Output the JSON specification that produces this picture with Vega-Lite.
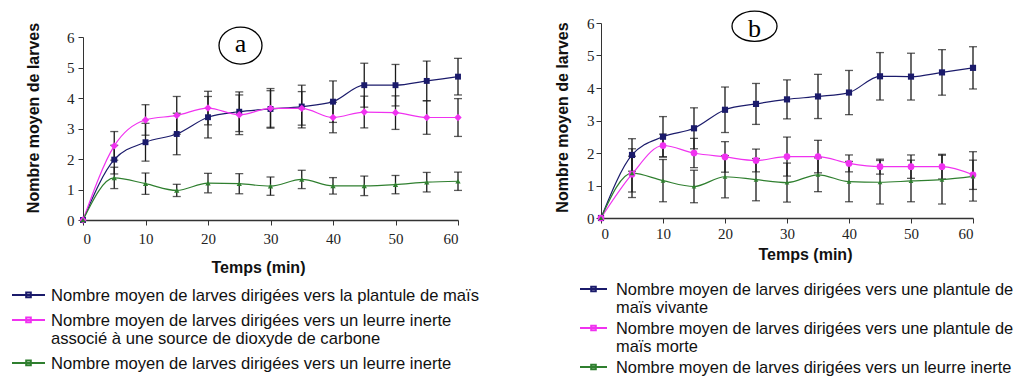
{
  "$schema": "https://vega.github.io/schema/vega-lite/v6.json",
  "background": "white",
  "padding": {"left": 11, "top": 8, "right": 5, "bottom": 5},
  "spacing": 143,
  "bounds": "flush",
  "datasets": {
    "a": [
      {"t": 0, "series": "Nombre moyen de larves dirigées vers la plantule de maïs", "mean": 0, "err": 0},
      {"t": 5, "series": "Nombre moyen de larves dirigées vers la plantule de maïs", "mean": 1.98, "err": 0.47},
      {"t": 10, "series": "Nombre moyen de larves dirigées vers la plantule de maïs", "mean": 2.55, "err": 0.62},
      {"t": 15, "series": "Nombre moyen de larves dirigées vers la plantule de maïs", "mean": 2.82, "err": 0.68},
      {"t": 20, "series": "Nombre moyen de larves dirigées vers la plantule de maïs", "mean": 3.37, "err": 0.68},
      {"t": 25, "series": "Nombre moyen de larves dirigées vers la plantule de maïs", "mean": 3.55, "err": 0.65},
      {"t": 30, "series": "Nombre moyen de larves dirigées vers la plantule de maïs", "mean": 3.64, "err": 0.6},
      {"t": 35, "series": "Nombre moyen de larves dirigées vers la plantule de maïs", "mean": 3.72, "err": 0.7},
      {"t": 40, "series": "Nombre moyen de larves dirigées vers la plantule de maïs", "mean": 3.88, "err": 0.68},
      {"t": 45, "series": "Nombre moyen de larves dirigées vers la plantule de maïs", "mean": 4.42, "err": 0.72},
      {"t": 50, "series": "Nombre moyen de larves dirigées vers la plantule de maïs", "mean": 4.42, "err": 0.68},
      {"t": 55, "series": "Nombre moyen de larves dirigées vers la plantule de maïs", "mean": 4.56, "err": 0.65},
      {"t": 60, "series": "Nombre moyen de larves dirigées vers la plantule de maïs", "mean": 4.7, "err": 0.6},
      {"t": 0, "series": "Nombre moyen de larves dirigées vers un leurre inerte associé à une source de dioxyde de carbone", "mean": 0, "err": 0},
      {"t": 5, "series": "Nombre moyen de larves dirigées vers un leurre inerte associé à une source de dioxyde de carbone", "mean": 2.43, "err": 0.47},
      {"t": 10, "series": "Nombre moyen de larves dirigées vers un leurre inerte associé à une source de dioxyde de carbone", "mean": 3.28, "err": 0.5},
      {"t": 15, "series": "Nombre moyen de larves dirigées vers un leurre inerte associé à une source de dioxyde de carbone", "mean": 3.43, "err": 0.62},
      {"t": 20, "series": "Nombre moyen de larves dirigées vers un leurre inerte associé à une source de dioxyde de carbone", "mean": 3.67, "err": 0.55},
      {"t": 25, "series": "Nombre moyen de larves dirigées vers un leurre inerte associé à une source de dioxyde de carbone", "mean": 3.45, "err": 0.65},
      {"t": 30, "series": "Nombre moyen de larves dirigées vers un leurre inerte associé à une source de dioxyde de carbone", "mean": 3.66, "err": 0.65},
      {"t": 35, "series": "Nombre moyen de larves dirigées vers un leurre inerte associé à une source de dioxyde de carbone", "mean": 3.66, "err": 0.55},
      {"t": 40, "series": "Nombre moyen de larves dirigées vers un leurre inerte associé à une source de dioxyde de carbone", "mean": 3.36, "err": 0.5},
      {"t": 45, "series": "Nombre moyen de larves dirigées vers un leurre inerte associé à une source de dioxyde de carbone", "mean": 3.54, "err": 0.52},
      {"t": 50, "series": "Nombre moyen de larves dirigées vers un leurre inerte associé à une source de dioxyde de carbone", "mean": 3.52, "err": 0.55},
      {"t": 55, "series": "Nombre moyen de larves dirigées vers un leurre inerte associé à une source de dioxyde de carbone", "mean": 3.36, "err": 0.55},
      {"t": 60, "series": "Nombre moyen de larves dirigées vers un leurre inerte associé à une source de dioxyde de carbone", "mean": 3.36, "err": 0.62},
      {"t": 0, "series": "Nombre moyen de larves dirigées vers un leurre inerte", "mean": 0, "err": 0},
      {"t": 5, "series": "Nombre moyen de larves dirigées vers un leurre inerte", "mean": 1.38, "err": 0.35},
      {"t": 10, "series": "Nombre moyen de larves dirigées vers un leurre inerte", "mean": 1.19, "err": 0.35},
      {"t": 15, "series": "Nombre moyen de larves dirigées vers un leurre inerte", "mean": 0.97, "err": 0.2},
      {"t": 20, "series": "Nombre moyen de larves dirigées vers un leurre inerte", "mean": 1.21, "err": 0.32},
      {"t": 25, "series": "Nombre moyen de larves dirigées vers un leurre inerte", "mean": 1.19, "err": 0.33},
      {"t": 30, "series": "Nombre moyen de larves dirigées vers un leurre inerte", "mean": 1.11, "err": 0.3},
      {"t": 35, "series": "Nombre moyen de larves dirigées vers un leurre inerte", "mean": 1.33, "err": 0.3},
      {"t": 40, "series": "Nombre moyen de larves dirigées vers un leurre inerte", "mean": 1.12, "err": 0.27},
      {"t": 45, "series": "Nombre moyen de larves dirigées vers un leurre inerte", "mean": 1.12, "err": 0.32},
      {"t": 50, "series": "Nombre moyen de larves dirigées vers un leurre inerte", "mean": 1.16, "err": 0.3},
      {"t": 55, "series": "Nombre moyen de larves dirigées vers un leurre inerte", "mean": 1.24, "err": 0.32},
      {"t": 60, "series": "Nombre moyen de larves dirigées vers un leurre inerte", "mean": 1.27, "err": 0.3}
    ],
    "b": [
      {"t": 0, "series": "Nombre moyen de larves dirigées vers une plantule de maïs vivante", "mean": 0, "err": 0},
      {"t": 5, "series": "Nombre moyen de larves dirigées vers une plantule de maïs vivante", "mean": 1.94, "err": 0.5},
      {"t": 10, "series": "Nombre moyen de larves dirigées vers une plantule de maïs vivante", "mean": 2.5, "err": 0.62},
      {"t": 15, "series": "Nombre moyen de larves dirigées vers une plantule de maïs vivante", "mean": 2.76, "err": 0.63},
      {"t": 20, "series": "Nombre moyen de larves dirigées vers une plantule de maïs vivante", "mean": 3.33, "err": 0.7},
      {"t": 25, "series": "Nombre moyen de larves dirigées vers une plantule de maïs vivante", "mean": 3.51, "err": 0.63},
      {"t": 30, "series": "Nombre moyen de larves dirigées vers une plantule de maïs vivante", "mean": 3.65, "err": 0.6},
      {"t": 35, "series": "Nombre moyen de larves dirigées vers une plantule de maïs vivante", "mean": 3.74, "err": 0.68},
      {"t": 40, "series": "Nombre moyen de larves dirigées vers une plantule de maïs vivante", "mean": 3.86, "err": 0.68},
      {"t": 45, "series": "Nombre moyen de larves dirigées vers une plantule de maïs vivante", "mean": 4.36, "err": 0.73},
      {"t": 50, "series": "Nombre moyen de larves dirigées vers une plantule de maïs vivante", "mean": 4.35, "err": 0.72},
      {"t": 55, "series": "Nombre moyen de larves dirigées vers une plantule de maïs vivante", "mean": 4.48, "err": 0.7},
      {"t": 60, "series": "Nombre moyen de larves dirigées vers une plantule de maïs vivante", "mean": 4.62, "err": 0.65},
      {"t": 0, "series": "Nombre moyen de larves dirigées vers une plantule de maïs morte", "mean": 0, "err": 0},
      {"t": 5, "series": "Nombre moyen de larves dirigées vers une plantule de maïs morte", "mean": 1.35, "err": 0.55},
      {"t": 10, "series": "Nombre moyen de larves dirigées vers une plantule de maïs morte", "mean": 2.23, "err": 0.35},
      {"t": 15, "series": "Nombre moyen de larves dirigées vers une plantule de maïs morte", "mean": 2.0, "err": 0.45},
      {"t": 20, "series": "Nombre moyen de larves dirigées vers une plantule de maïs morte", "mean": 1.88, "err": 0.47},
      {"t": 25, "series": "Nombre moyen de larves dirigées vers une plantule de maïs morte", "mean": 1.77, "err": 0.35},
      {"t": 30, "series": "Nombre moyen de larves dirigées vers une plantule de maïs morte", "mean": 1.89, "err": 0.6},
      {"t": 35, "series": "Nombre moyen de larves dirigées vers une plantule de maïs morte", "mean": 1.89, "err": 0.5},
      {"t": 40, "series": "Nombre moyen de larves dirigées vers une plantule de maïs morte", "mean": 1.68, "err": 0.26},
      {"t": 45, "series": "Nombre moyen de larves dirigées vers une plantule de maïs morte", "mean": 1.58, "err": 0.23},
      {"t": 50, "series": "Nombre moyen de larves dirigées vers une plantule de maïs morte", "mean": 1.58, "err": 0.36},
      {"t": 55, "series": "Nombre moyen de larves dirigées vers une plantule de maïs morte", "mean": 1.58, "err": 0.38},
      {"t": 60, "series": "Nombre moyen de larves dirigées vers une plantule de maïs morte", "mean": 1.33, "err": 0.45},
      {"t": 0, "series": "Nombre moyen de larves dirigées vers un leurre inerte", "mean": 0, "err": 0},
      {"t": 5, "series": "Nombre moyen de larves dirigées vers un leurre inerte", "mean": 1.38, "err": 0.75},
      {"t": 10, "series": "Nombre moyen de larves dirigées vers un leurre inerte", "mean": 1.15, "err": 0.65},
      {"t": 15, "series": "Nombre moyen de larves dirigées vers un leurre inerte", "mean": 0.97, "err": 0.5},
      {"t": 20, "series": "Nombre moyen de larves dirigées vers un leurre inerte", "mean": 1.27, "err": 0.65},
      {"t": 25, "series": "Nombre moyen de larves dirigées vers un leurre inerte", "mean": 1.18, "err": 0.65},
      {"t": 30, "series": "Nombre moyen de larves dirigées vers un leurre inerte", "mean": 1.09, "err": 0.6},
      {"t": 35, "series": "Nombre moyen de larves dirigées vers un leurre inerte", "mean": 1.33, "err": 0.52},
      {"t": 40, "series": "Nombre moyen de larves dirigées vers un leurre inerte", "mean": 1.12, "err": 0.62},
      {"t": 45, "series": "Nombre moyen de larves dirigées vers un leurre inerte", "mean": 1.1, "err": 0.67},
      {"t": 50, "series": "Nombre moyen de larves dirigées vers un leurre inerte", "mean": 1.14, "err": 0.64},
      {"t": 55, "series": "Nombre moyen de larves dirigées vers un leurre inerte", "mean": 1.18, "err": 0.75},
      {"t": 60, "series": "Nombre moyen de larves dirigées vers un leurre inerte", "mean": 1.28, "err": 0.76}
    ]
  },
  "hconcat": [
    {
      "width": 375,
      "height": 197,
      "data": {"name": "a"},
      "encoding": {
        "x": {"field": "t", "type": "quantitative", "scale": {"domain": [0, 60], "nice": false},
          "axis": {"values": [0, 10, 20, 30, 40, 50, 60], "title": "Temps (min)", "titlePadding": 13, "labelPadding": 6, "tickSize": 5, "domainWidth": 1.5, "titleX": 175}},
        "y": {"field": "mean", "type": "quantitative", "scale": {"domain": [0, 6], "range": [197, 14], "nice": false},
          "axis": {"values": [0, 1, 2, 3, 4, 5, 6], "title": "Nombre moyen de larves", "titlePadding": 25, "labelPadding": 4, "tickSize": 5, "titleY": 94.5}}
      },
      "layer": [
        {
          "mark": {"type": "errorbar", "ticks": {"size": 8}, "color": "#1a1a1a", "thickness": 1.3},
          "transform": [{"filter": "datum.err > 0"}],
          "encoding": {"yError": {"field": "err"}}
        },
        {
          "mark": {"type": "line", "interpolate": "monotone", "strokeWidth": 1.2},
          "encoding": {
            "color": {"field": "series", "type": "nominal",
              "scale": {"domain": ["Nombre moyen de larves dirigées vers la plantule de maïs", "Nombre moyen de larves dirigées vers un leurre inerte associé à une source de dioxyde de carbone", "Nombre moyen de larves dirigées vers un leurre inerte"], "range": ["#1b1b6b", "#f032f0", "#2f7f2f"]},
              "legend": {"title": null, "orient": "none", "legendX": -72, "legendY": 260, "direction": "vertical", "padding": 0,
                "symbolType": "M-1,-0.34L1,-0.34M-0.14,-0.48L0.14,-0.48L0.14,-0.2L-0.14,-0.2Z", "symbolSize": 1089, "symbolStrokeWidth": 2,
                "labelFont": "Liberation Sans", "labelFontSize": 16.6, "labelColor": "#111", "labelBaseline": "alphabetic", "labelLimit": 1000, "labelOffset": 5, "rowPadding": 3,
                "labelExpr": "datum.label == 'Nombre moyen de larves dirigées vers un leurre inerte associé à une source de dioxyde de carbone' ? ['Nombre moyen de larves dirigées vers un leurre inerte', 'associé à une source de dioxyde de carbone'] : datum.label"}}
          }
        },
        {
          "transform": [{"filter": "datum.series == 'Nombre moyen de larves dirigées vers la plantule de maïs'"}],
          "mark": {"type": "point", "filled": true, "opacity": 1, "size": 35, "shape": "square", "color": "#1b1b6b"}
        },
        {
          "transform": [{"filter": "datum.series == 'Nombre moyen de larves dirigées vers un leurre inerte associé à une source de dioxyde de carbone'"}],
          "mark": {"type": "point", "filled": true, "opacity": 1, "size": 55, "shape": "diamond", "color": "#f032f0"}
        },
        {
          "transform": [{"filter": "datum.series == 'Nombre moyen de larves dirigées vers un leurre inerte'"}],
          "mark": {"type": "point", "filled": true, "opacity": 1, "size": 28, "shape": "triangle-up", "color": "#2f7f2f"}
        },
        {
          "data": {"values": [{"t": 25.2, "mean": 5.72, "label": "a"}]},
          "mark": {"type": "point", "shape": "M-1,0A1,0.86,0,1,1,1,0A1,0.86,0,1,1,-1,0Z", "size": 1849, "filled": false, "color": "#000", "strokeWidth": 1.3, "opacity": 1}
        },
        {
          "data": {"values": [{"t": 25.2, "mean": 5.72, "label": "a"}]},
          "mark": {"type": "text", "font": "Liberation Serif", "fontSize": 26, "baseline": "middle", "align": "center", "dy": -2, "color": "#000"},
          "encoding": {"text": {"field": "label"}}
        }
      ]
    },
    {
      "width": 372,
      "height": 195,
      "data": {"name": "b"},
      "encoding": {
        "x": {"field": "t", "type": "quantitative", "scale": {"domain": [0, 60], "nice": false},
          "axis": {"values": [0, 10, 20, 30, 40, 50, 60], "title": "Temps (min)", "titlePadding": 5, "labelPadding": 3, "tickSize": 5, "domainWidth": 1.5, "titleX": 204}},
        "y": {"field": "mean", "type": "quantitative", "scale": {"domain": [0, 6], "nice": false},
          "axis": {"values": [0, 1, 2, 3, 4, 5, 6], "title": "Nombre moyen de larves", "titlePadding": 16, "labelPadding": 2, "tickSize": 5, "titleY": 94}}
      },
      "layer": [
        {
          "mark": {"type": "errorbar", "ticks": {"size": 8}, "color": "#1a1a1a", "thickness": 1.3},
          "transform": [{"filter": "datum.err > 0"}],
          "encoding": {"yError": {"field": "err"}}
        },
        {
          "mark": {"type": "line", "interpolate": "monotone", "strokeWidth": 1.2},
          "encoding": {
            "color": {"field": "series", "type": "nominal",
              "scale": {"domain": ["Nombre moyen de larves dirigées vers une plantule de maïs vivante", "Nombre moyen de larves dirigées vers une plantule de maïs morte", "Nombre moyen de larves dirigées vers un leurre inerte"], "range": ["#1b1b6b", "#f032f0", "#2f7f2f"]},
              "legend": {"title": null, "orient": "none", "legendX": -22, "legendY": 257, "direction": "vertical", "padding": 0,
                "symbolType": "M-1,-0.41L1,-0.41M-0.17,-0.58L0.17,-0.58L0.17,-0.24L-0.17,-0.24Z", "symbolSize": 729, "symbolStrokeWidth": 2,
                "labelFont": "Liberation Sans", "labelFontSize": 16.4, "labelColor": "#111", "labelBaseline": "alphabetic", "labelLimit": 1000, "labelOffset": 8, "rowPadding": 2,
                "labelExpr": "datum.label == 'Nombre moyen de larves dirigées vers une plantule de maïs vivante' ? ['Nombre moyen de larves dirigées vers une plantule de', 'maïs vivante'] : datum.label == 'Nombre moyen de larves dirigées vers une plantule de maïs morte' ? ['Nombre moyen de larves dirigées vers une plantule de', 'maïs morte'] : datum.label"}}
          }
        },
        {
          "transform": [{"filter": "datum.series == 'Nombre moyen de larves dirigées vers une plantule de maïs vivante'"}],
          "mark": {"type": "point", "filled": true, "opacity": 1, "size": 38, "shape": "square", "color": "#1b1b6b"}
        },
        {
          "transform": [{"filter": "datum.series == 'Nombre moyen de larves dirigées vers une plantule de maïs morte'"}],
          "mark": {"type": "point", "filled": true, "opacity": 1, "size": 45, "shape": "circle", "color": "#f032f0"}
        },
        {
          "transform": [{"filter": "datum.series == 'Nombre moyen de larves dirigées vers un leurre inerte'"}],
          "mark": {"type": "point", "filled": true, "opacity": 1, "size": 22, "shape": "triangle-up", "color": "#2f7f2f"}
        },
        {
          "data": {"values": [{"t": 24.76, "mean": 5.9, "label": "b"}]},
          "mark": {"type": "point", "shape": "M-1,0A1,0.67,0,1,1,1,0A1,0.67,0,1,1,-1,0Z", "size": 2025, "filled": false, "color": "#000", "strokeWidth": 1.3, "opacity": 1}
        },
        {
          "data": {"values": [{"t": 24.76, "mean": 5.9, "label": "b"}]},
          "mark": {"type": "text", "font": "Liberation Serif", "fontSize": 26, "baseline": "middle", "align": "center", "dy": 3, "color": "#000"},
          "encoding": {"text": {"field": "label"}}
        }
      ]
    }
  ],
  "resolve": {"scale": {"color": "independent", "x": "independent", "y": "independent"}, "legend": {"color": "independent"}},
  "config": {
    "view": {"stroke": null},
    "axis": {"grid": false, "domainColor": "#333", "tickColor": "#333", "labelFont": "Liberation Serif", "labelFontSize": 15, "labelColor": "#222", "titleFont": "Liberation Sans", "titleFontSize": 16, "titleFontWeight": "bold", "titleColor": "#111"}
  }
}
